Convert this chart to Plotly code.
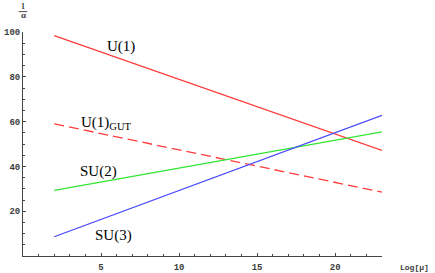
import plotly.graph_objects as go

# Data
log_mu = [2, 23]
u1 = [98.4, 47.1]
u1_gut = [59.0, 28.5]
su2 = [29.3, 55.4]
su3 = [8.6, 62.8]

x_ticks = [5, 10, 15, 20]
y_ticks = [20, 40, 60, 80, 100]

labels = [
    ("U(1)", 6.3, 93.7),
    ("U(1)<sub>GUT</sub>", 5.3, 59.4),
    ("SU(2)", 4.83, 37.8),
    ("SU(3)", 5.77, 9.2),
]

RED = "rgb(255,60,60)"
GREEN = "rgb(50,230,50)"
BLUE = "rgb(70,70,255)"
AXIS = "rgb(70,70,70)"
TICKFONT = dict(family="Liberation Mono", size=9, color="rgb(60,60,60)", weight="bold")

fig = go.Figure()
fig.add_trace(go.Scatter(x=log_mu, y=u1, mode="lines", line=dict(color=RED, width=1.3)))
fig.add_trace(go.Scatter(x=log_mu, y=u1_gut, mode="lines", line=dict(color=RED, width=1.3, dash="10px,5px")))
fig.add_trace(go.Scatter(x=log_mu, y=su2, mode="lines", line=dict(color=GREEN, width=1.3)))
fig.add_trace(go.Scatter(x=log_mu, y=su3, mode="lines", line=dict(color=BLUE, width=1.3)))

for text, x, y in labels:
    fig.add_annotation(x=x, y=y, text=text, showarrow=False, xref="x", yref="y",
                       font=dict(family="Liberation Serif", size=15, color="black"))

# axis labels
fig.add_annotation(x=0, y=1, xref="paper", yref="paper", text="<b>1</b>", showarrow=False,
                   xanchor="center", yanchor="bottom", yshift=19,
                   font=dict(family="Liberation Serif", size=8, color="rgb(60,60,60)"))
fig.add_annotation(x=0, y=1, xref="paper", yref="paper", text="<b>α</b>", showarrow=False,
                   xanchor="center", yanchor="bottom", yshift=10,
                   font=dict(family="Liberation Serif", size=9, color="rgb(60,60,60)"))
fig.add_shape(type="line", xref="paper", yref="paper", x0=-0.012, x1=0.012, y0=1.091, y1=1.091,
              line=dict(color="rgb(80,80,80)", width=1))
fig.add_annotation(x=1, y=0, xref="paper", yref="paper", text="Log[μ]", showarrow=False,
                   xanchor="left", yanchor="middle", xshift=16, yshift=-11,
                   font=dict(family="Liberation Mono", size=8, color="rgb(60,60,60)", weight="bold"))

fig.update_xaxes(range=[0, 23], tickvals=x_ticks, ticks="inside", ticklen=3, tickwidth=1,
                 tickcolor=AXIS, showline=True, linecolor=AXIS, linewidth=1, showgrid=False,
                 zeroline=False, tickfont=TICKFONT, automargin=False, ticklabelstandoff=2,
                 minor=dict(dtick=1, tick0=0, ticks="inside", ticklen=2, tickcolor=AXIS, showgrid=False))
fig.update_yaxes(range=[0, 100], tickvals=y_ticks, ticks="inside", ticklen=3, tickwidth=1,
                 tickcolor=AXIS, showline=True, linecolor=AXIS, linewidth=1, showgrid=False,
                 zeroline=False, tickfont=TICKFONT, automargin=False,
                 minor=dict(dtick=5, tick0=0, ticks="inside", ticklen=2, tickcolor=AXIS, showgrid=False))

fig.update_layout(width=435, height=273, showlegend=False,
                  margin=dict(l=23, r=53, t=31.5, b=16.5, autoexpand=False),
                  paper_bgcolor="white", plot_bgcolor="white")

fig.write_html("out.html", config={"displayModeBar": False},
               post_script="document.body.style.margin='0';document.body.style.padding='0';")
